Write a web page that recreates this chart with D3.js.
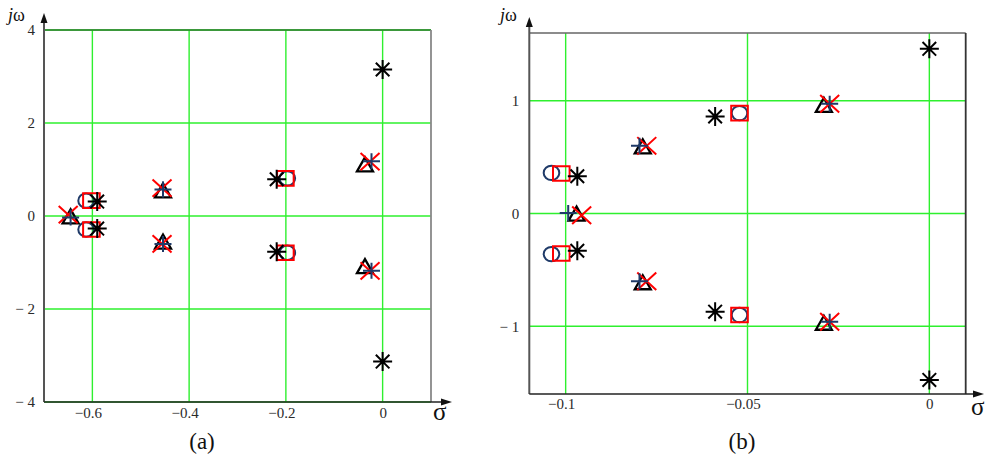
<!DOCTYPE html>
<html><head><meta charset="utf-8">
<script src="https://cdn.jsdelivr.net/npm/d3@7"></script>
<style>body{margin:0;background:#fff}svg{display:block}</style>
</head><body>
<svg id="c" width="985" height="459"></svg>
<script>
// ---------- Panel (a) data ----------
const aXTicks = [-0.6, -0.4, -0.2, 0];
const aXLabels = ["\u22120.6", "\u22120.4", "\u22120.2", "0"];
const aYTicks = [-4, -2, 0, 2, 4];
const aYLabels = ["\u2212 4", "\u2212 2", "0", "2", "4"];
const aAsterisk = [[-0.59,0.31],[-0.59,-0.27],[-0.219,0.79],[-0.219,-0.77],[0,3.15],[0,-3.13]];
const aCircle   = [[-0.613,0.33],[-0.613,-0.29],[-0.197,0.81],[-0.197,-0.79]];
const aSquare   = [[-0.602,0.33],[-0.602,-0.29],[-0.201,0.81],[-0.201,-0.79]];
const aTriangle = [[-0.645,-0.02],[-0.454,0.54],[-0.454,-0.56],[-0.0365,1.10],[-0.0365,-1.09]];
const aCross    = [[-0.65,0.03],[-0.456,0.6],[-0.456,-0.6],[-0.026,1.17],[-0.026,-1.18]];
const aPlus     = [[-0.645,-0.03],[-0.454,0.57],[-0.454,-0.6],[-0.023,1.18],[-0.023,-1.18]];

// ---------- Panel (b) data ----------
const bXTicks = [-0.1, -0.05, 0];
const bXLabels = ["\u22120.1", "\u22120.05", "0"];
const bYTicks = [-1, 0, 1];
const bYLabels = ["\u2212 1", "0", "1"];
const bAsterisk = [[-0.0968,0.33],[-0.0968,-0.33],[-0.0589,0.86],[-0.0589,-0.87],[0,1.46],[0,-1.475]];
const bCircle   = [[-0.1039,0.36],[-0.1039,-0.36],[-0.0522,0.89],[-0.0522,-0.90]];
const bSquare   = [[-0.1012,0.355],[-0.1012,-0.355],[-0.0522,0.89],[-0.0522,-0.90]];
const bTriangle = [[-0.097,-0.006],[-0.0788,0.59],[-0.0788,-0.614],[-0.029,0.958],[-0.029,-0.973]];
const bCross    = [[-0.0956,-0.015],[-0.0777,0.6],[-0.0777,-0.6],[-0.0274,0.973],[-0.0274,-0.96]];
const bPlus     = [[-0.0993,0.005],[-0.0797,0.6],[-0.0797,-0.6],[-0.0274,0.973],[-0.0274,-0.96]];

const svg = d3.select("#c");
const GRID = "#2ef02e", NAVY = "#1f3a68", RED = "#ff0000", TXT = "#2a2a2a";
const SERIF = '"Liberation Serif"';

const shapes = {
  circle: (x,y) => `M${x-7.8},${y}a7.8,7.2,0 1,0 15.6,0a7.8,7.2,0 1,0 -15.6,0Z`,
  square: (x,y) => `M${x-8.3},${y-7.3}h16.6v14.6h-16.6Z`,
  triangle: (x,y) => `M${x-8},${y+6.5}L${x+8},${y+6.5}L${x},${y-7.5}Z`,
  cross: (x,y) => `M${x-9.5},${y-8.7}L${x+9.5},${y+8.7}M${x-9.5},${y+8.7}L${x+9.5},${y-8.7}`,
  plus: (x,y) => `M${x-8.5},${y}H${x+8.5}M${x},${y-8}V${y+8}`,
  asterisk: (x,y) => {const r=9.5,d=6.8;return `M${x},${y-r}V${y+r}M${x-r},${y}H${x+r}M${x-d},${y-d}L${x+d},${y+d}M${x-d},${y+d}L${x+d},${y-d}`;}
};
const styles = {
  circle:{stroke:NAVY,w:2,fill:"none"},
  square:{stroke:RED,w:2,fill:"none"},
  triangle:{stroke:"#000",w:2.3,fill:"none"},
  cross:{stroke:RED,w:2,fill:"none"},
  plus:{stroke:NAVY,w:2,fill:"none"},
  asterisk:{stroke:"#000",w:2,fill:"none"}
};

function panel(cfg){
  const x = d3.scaleLinear().domain(cfg.xd).range(cfg.xr);
  const y = d3.scaleLinear().domain(cfg.yd).range(cfg.yr);
  const g = svg.append("g");
  const [x0,x1] = cfg.xr, [y0,y1] = cfg.yr;
  g.selectAll(".gx").data(cfg.xTicks).join("line")
    .attr("x1",d=>x(d)).attr("x2",d=>x(d)).attr("y1",y1).attr("y2",y0)
    .attr("stroke",GRID).attr("stroke-width",1.4);
  g.selectAll(".gy").data(cfg.yTicks).join("line")
    .attr("x1",x0).attr("x2",x1).attr("y1",d=>y(d)).attr("y2",d=>y(d))
    .attr("stroke",GRID).attr("stroke-width",1.4);
  g.append("line").attr("x1",x0).attr("x2",x1).attr("y1",y1).attr("y2",y1)
    .attr("stroke",cfg.topColor).attr("stroke-width",1.6);
  g.append("line").attr("x1",x1).attr("x2",x1).attr("y1",y1).attr("y2",y0)
    .attr("stroke",cfg.rightColor).attr("stroke-width",1.8);
  g.append("line").attr("x1",x0).attr("x2",x0).attr("y1",y0).attr("y2",cfg.arrowTop+6)
    .attr("stroke","#555").attr("stroke-width",2);
  g.append("path").attr("d",`M${x0},${cfg.arrowTop}L${x0-3.5},${cfg.arrowTop+10}L${x0+3.5},${cfg.arrowTop+10}Z`).attr("fill","#111");
  g.append("line").attr("x1",x0).attr("x2",cfg.arrowRight-6).attr("y1",y0).attr("y2",y0)
    .attr("stroke","#222").attr("stroke-width",1.6);
  g.append("path").attr("d",`M${cfg.arrowRight},${y0}L${cfg.arrowRight-11},${y0-3.5}L${cfg.arrowRight-11},${y0+3.5}Z`).attr("fill","#111");
  const ax = g.append("g").attr("transform",`translate(0,${y0})`)
    .call(d3.axisBottom(x).tickValues(cfg.xTicks).tickFormat((d,i)=>cfg.xLabels[i]).tickSize(0).tickPadding(cfg.xPad));
  const ay = g.append("g").attr("transform",`translate(${x0},0)`)
    .call(d3.axisLeft(y).tickValues(cfg.yTicks).tickFormat((d,i)=>cfg.yLabels[i]).tickSize(0).tickPadding(cfg.yPad));
  [ax,ay].forEach(a=>{a.select(".domain").remove();
    a.selectAll("text").style("font-family",SERIF).style("font-size","15px").attr("fill",TXT);});
  ax.selectAll("text").attr("dx",(d,i)=>cfg.xLabels[i].startsWith("\u2212")?-4.5:0);
  const order = ["circle","square","triangle","cross","plus","asterisk"];
  order.forEach(k=>{
    const st = styles[k];
    g.selectAll(".m"+k).data(cfg.series[k]).join("path")
      .attr("d",d=>shapes[k](x(d[0]),y(d[1])))
      .attr("fill",st.fill).attr("stroke",st.stroke).attr("stroke-width",st.w);
  });
  const jw = g.append("text").attr("x",cfg.jwX).attr("y",21).style("font-family",SERIF).style("font-size","18px").attr("fill","#111");
  jw.append("tspan").style("font-style","italic").text("j");
  jw.append("tspan").text("\u03c9");
  g.append("text").attr("x",cfg.sigX).attr("y",cfg.sigY).style("font-family",SERIF).style("font-size","25px").attr("fill","#111").text("\u03c3");
  g.append("text").attr("x",cfg.capX).attr("y",449).attr("text-anchor","middle").style("font-family",SERIF).style("font-size","23px").attr("fill","#111").text(cfg.caption);
}

panel({
  xd:[-0.7,0.1], yd:[-4,4], xr:[44,431], yr:[402,30],
  xTicks:aXTicks, xLabels:aXLabels, yTicks:aYTicks, yLabels:aYLabels,
  xPad:5, yPad:9, topColor:"#2f7a2f", rightColor:"#888",
  arrowTop:13, arrowRight:452, jwX:8, sigX:433, sigY:420, capX:202, caption:"(a)",
  series:{circle:aCircle,square:aSquare,triangle:aTriangle,cross:aCross,plus:aPlus,asterisk:aAsterisk}
});
panel({
  xd:[-0.11,0.01], yd:[-1.6,1.6], xr:[529.3,965.7], yr:[394,33],
  xTicks:bXTicks, xLabels:bXLabels, yTicks:bYTicks, yLabels:bYLabels,
  xPad:4, yPad:10, topColor:"#666", rightColor:"#333",
  arrowTop:17, arrowRight:984, jwX:500, sigX:971, sigY:415, capX:742, caption:"(b)",
  series:{circle:bCircle,square:bSquare,triangle:bTriangle,cross:bCross,plus:bPlus,asterisk:bAsterisk}
});
</script>
</body></html>
